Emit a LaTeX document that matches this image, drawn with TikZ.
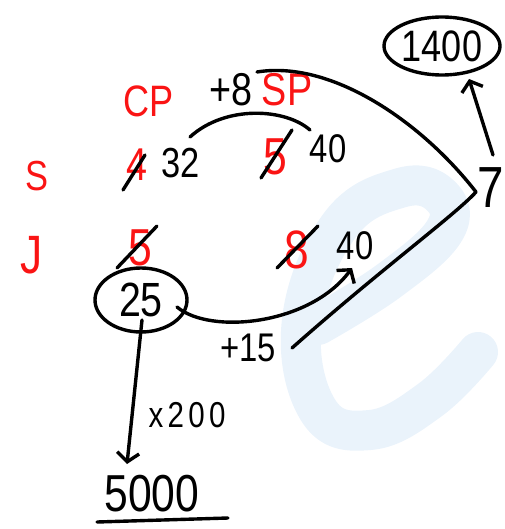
\documentclass[tikz,border=0pt]{standalone}
\usepackage{fontspec}
\setmainfont{Liberation Sans}[FakeStretch=0.82]
\usetikzlibrary{arrows.meta,shapes.geometric,calc}
\definecolor{hred}{RGB}{250,20,20}
\definecolor{wmark}{RGB}{234,243,251}
\newcommand{\fs}[1]{\fontsize{#1}{#1}\selectfont}
\begin{document}
\begin{tikzpicture}[x=1pt,y=-1pt,
  txt/.style={inner sep=0pt, font=\fs{42}},
  rtxt/.style={txt, text=hred},
  ink/.style={line width=3.4pt, line cap=round, line join=round, draw=black},
  arr/.style={ink, -{Straight Barb[length=9pt,width=22pt]}},
  ring/.style={ink, ellipse, inner sep=0pt}]
\useasboundingbox (0,0) rectangle (504,529);
% watermark
\draw[wmark, line width=40pt, line cap=round, line join=round]
  plot[smooth, tension=0.7] coordinates {(318,325) (390,280) (445,230) (440,195) (400,188) (340,225) (302,320) (318,410) (370,430) (430,400) (478,352)};
% labels
\node[rtxt, font=\fs{44}] (cp) at (149,101) {CP};
\node[txt, font=\fs{46}] (plus8) at (231,90) {+8};
\node[rtxt, font=\fs{46}] (sp) at (287,90) {SP};
\node[rtxt, font=\fs{42}] (s) at (37,176) {S};
\node[rtxt, font=\fs{54}] (j) at (32,255) {J};
% S row
\node[rtxt, font=\fs{46}] (f4) at (137,165) {4};
\node[txt] (n32) at (181,163) {32};
\node[rtxt, font=\fs{52}] (f5a) at (275,157) {5};
\node[txt, font=\fs{40}] (n40a) at (328,149) {40};
% J row
\node[rtxt, font=\fs{52}] (f5b) at (140,248) {5};
\node[rtxt, font=\fs{54}] (f8) at (297,250) {8};
\node[txt, font=\fs{40}] (n40b) at (355,246) {40};
% slashes
\draw[ink] ($(f4)+(-14,25)$) -- ($(f4)+(8,-10)$);
\draw[ink] ($(f5a)+(-14,21)$) -- ($(f5a)+(17,-27)$);
\draw[ink] ($(f5b)+(-23,20)$) -- ($(f5b)+(17,-22)$);
\draw[ink] ($(f8)+(-20,18)$) -- ($(f8)+(21,-24)$);
% circled 25
\node[ring, txt, font=\fs{48}, draw, minimum width=92pt, minimum height=64pt] (n25) at (141,300) {25};
% 7 and 1400
\node[txt, font=\fs{58}] (n7) at (491,188) {7};
\node[ring, txt, font=\fs{44}, draw, minimum width=116pt, minimum height=58pt] (n1400) at (442,46) {1400};
% arc over SP column
\coordinate (a1) at (190,137);
\coordinate (a2) at (310,130);
\draw[ink] (a1) .. controls (225,105) and (285,108) .. (a2);
% big curve
\coordinate (b1) at (257,72);
\coordinate (b2) at (476,192);
\coordinate (b3) at (292,348);
\draw[ink] (b1) .. controls (330,60) and (420,120) .. (b2)
  .. controls (455,215) and (380,270) .. (b3);
% 25 -> 40
\coordinate (c1) at (177,307);
\coordinate (c2) at (352,268);
\draw[arr] (c1) .. controls (210,335) and (310,325) .. (c2);
\node[txt, font=\fs{40}] (plus15) at (248,348) {+15};
% 7 -> 1400
\coordinate (d1) at (493,155);
\coordinate (d2) at (469,79);
\draw[arr] (d1) -- (d2);
% 25 -> 5000
\coordinate (e1) at (142,320);
\coordinate (e2) at (127,464);
\draw[arr] (e1) -- (e2);
\node[txt, font=\fs{36}\addfontfeature{LetterSpace=12}] (x200) at (187,415) {x200};
\node[txt, font=\fs{52}] (n5000) at (152,494) {5000};
\coordinate (u1) at (97,522);
\coordinate (u2) at (228,518);
\draw[ink] (u1) -- (u2);
\end{tikzpicture}
\end{document}
